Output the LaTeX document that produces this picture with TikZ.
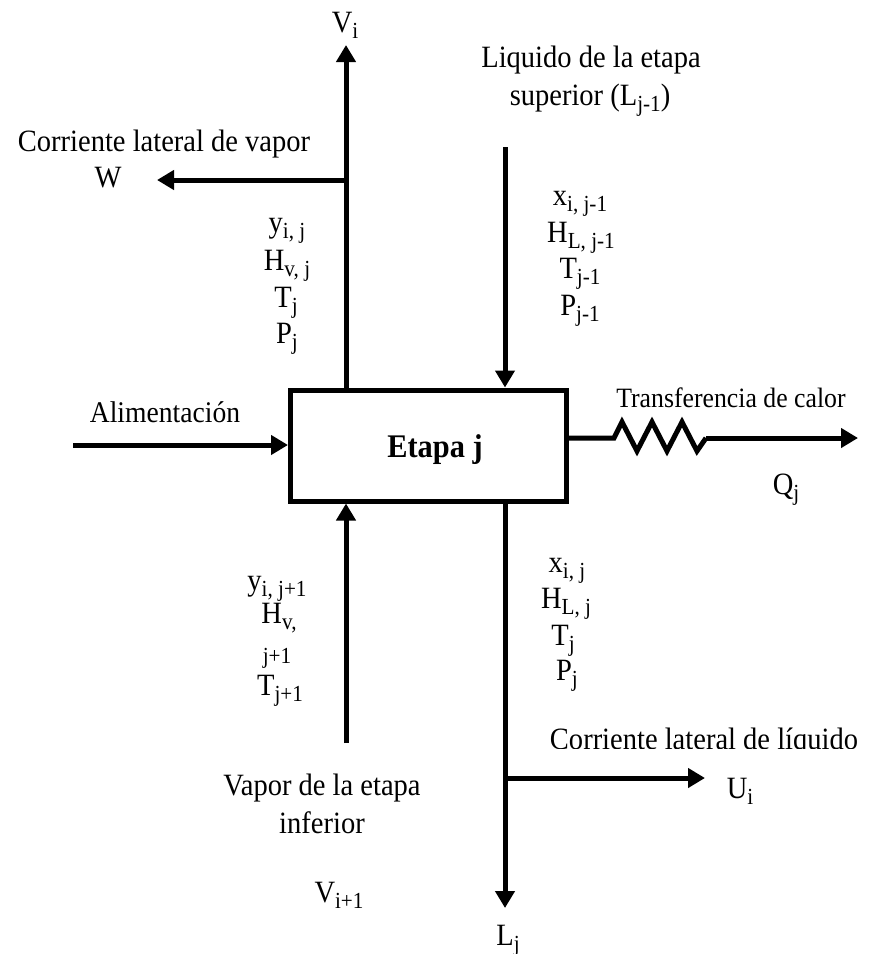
\documentclass[tikz,border=0pt]{standalone}
\usepackage{fontspec}
\setmainfont{Liberation Serif}[FakeStretch=0.92]
\usetikzlibrary{arrows.meta}
\newcommand\sbs[1]{\raisebox{-6pt}{\fontsize{23}{23}\selectfont #1}}
\tikzset{
  flow/.style={line width=5pt, -{Triangle[width=19pt,length=17pt]}},
  plain/.style={line width=5pt},
  lbl/.style={inner sep=0pt, anchor=base, font=\fontsize{31}{37}\selectfont},
  stagebox/.style={draw, line width=5pt, minimum width=276pt, minimum height=111pt, inner sep=0pt},
}
\begin{document}
\begin{tikzpicture}[x=1pt,y=-1pt]
\useasboundingbox (0,0) rectangle (869,954);
% stage box
\node[stagebox] (stage) at (428.5,445.5) {};
\node[lbl,font=\fontsize{33}{37}\selectfont\bfseries] (etapa) at (435,457) {Etapa j};
% coordinates
\coordinate (vtop) at (346,45);
\coordinate (wj) at (346,180);
\coordinate (wtip) at (157,180);
\coordinate (ltop) at (505,147);
\coordinate (fin) at (73,445);
\coordinate (zs) at (614,438);
\coordinate (ze) at (706,438);
\coordinate (qtip) at (858,438);
\coordinate (vbot) at (346,743);
\coordinate (lbot) at (505,908);
\coordinate (uj) at (505,778);
\coordinate (utip) at (705,778);
% connectors
\draw[flow] (stage.north -| vtop) -- (vtop);
\draw[flow] (wj) -- (wtip);
\draw[flow] (ltop) -- (ltop |- stage.north);
\draw[flow] (fin) -- (fin -| stage.west);
\draw[plain, line join=miter] (stage.east |- zs) -- (zs) -- ++(8,-16) -- ++(15,29) -- ++(15,-29) -- ++(15,29) -- ++(15,-29) -- ++(15,29) -- (ze);
\draw[flow] (ze) -- (qtip);
\draw[flow] (vbot) -- (vbot |- stage.south);
\draw[flow] (stage.south -| lbot) -- (lbot);
\draw[flow] (uj) -- (utip);
% labels
\node[lbl] (vi) at (345,32) {V\sbs{i}};
\node[lbl] (wlat) at (164,151) {Corriente lateral de vapor};
\node[lbl] (w) at (108,187) {W};
\node[lbl] (y1) at (287,232) {y\sbs{i, j}};
\node[lbl] (hv1) at (287,270) {H\sbs{v, j}};
\node[lbl] (t1) at (286,307) {T\sbs{j}};
\node[lbl] (p1) at (287,343) {P\sbs{j}};
\node[lbl] (liq1) at (591,67) {Liquido de la etapa};
\node[lbl] (liq2) at (590,105) {superior (L\sbs{j-1})};
\node[lbl] (x0) at (580,205) {x\sbs{i, j-1}};
\node[lbl] (hl0) at (581,242) {H\sbs{L, j-1}};
\node[lbl] (t0) at (580,278) {T\sbs{j-1}};
\node[lbl] (p0) at (580,315) {P\sbs{j-1}};
\node[lbl,font=\fontsize{30}{37}\selectfont] (feed) at (165,422) {Alimentación};
\node[lbl,font=\fontsize{28}{37}\selectfont] (heat) at (731,407) {Transferencia de calor};
\node[lbl] (q) at (786,494) {Q\sbs{j}};
\node[lbl] (y2) at (277,590) {y\sbs{i, j+1}};
\node[lbl] (hv2) at (279,623) {H\sbs{v,}};
\node[lbl,font=\fontsize{23}{23}\selectfont] (jp) at (277,663) {j+1};
\node[lbl] (t2) at (280,695) {T\sbs{j+1}};
\node[lbl] (vap1) at (322,795) {Vapor de la etapa};
\node[lbl] (vap2) at (322,833) {inferior};
\node[lbl] (vi1) at (339,902) {V\sbs{i+1}};
\node[lbl] (x1) at (567,572) {x\sbs{i, j}};
\node[lbl] (hl1) at (566,608) {H\sbs{L, j}};
\node[lbl] (t3) at (563,645) {T\sbs{j}};
\node[lbl] (p3) at (567,680) {P\sbs{j}};
\begin{scope}
  \clip (520,700) rectangle (869,748);
  \node[lbl] (liqlat) at (704,749) {Corriente lateral de líquido};
\end{scope}
\node[lbl] (ui) at (740,798) {U\sbs{i}};
\node[lbl] (lj) at (508,945) {L\sbs{j}};
\end{tikzpicture}
\end{document}
